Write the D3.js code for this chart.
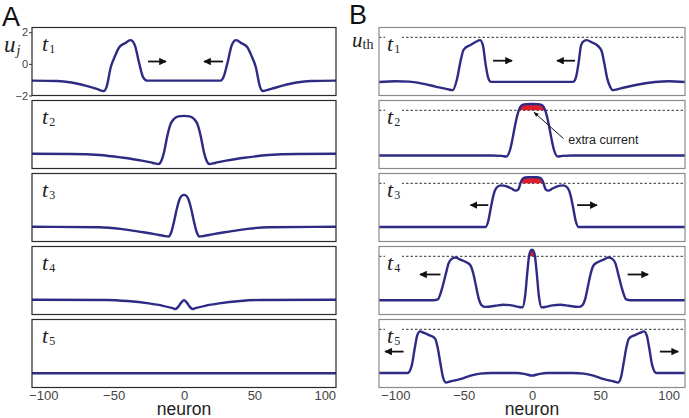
<!DOCTYPE html>
<html><head><meta charset="utf-8">
<script src="https://cdn.jsdelivr.net/npm/d3@7"></script>
<style>body{margin:0;background:#fff} svg{display:block}</style>
</head><body>
<svg id="c" width="689" height="418"></svg>
<script>
// ---------------- data ----------------
const timeLabels = ["1","2","3","4","5"];
const xTicks = [-100,-50,0,50,100];
const yTicks = [-2,0,2];
const uThreshold = 1.68;

// Panel A (no extra current)
const aX1 = [-108,-90,-80,-70,-62,-57,-55,-52,-49,-46,-42,-38,-35,-32,-29,-26,0,26,28,31,34,37,41,45,48,51,54,56,62,70,80,90,108];
const aU1 = [-1.06,-1.08,-1.18,-1.38,-1.58,-1.72,-1.45,-0.2,0.5,1.05,1.3,1.5,1.2,0.1,-0.85,-1.06,-1.06,-1.06,-0.85,0.1,1.2,1.5,1.3,1.05,0.5,-0.2,-1.45,-1.72,-1.58,-1.38,-1.18,-1.08,-1.06];
const aX2 = [-108,-80,-60,-45,-30,-22,-18,-16,-14,-12,-10,-7,-4,0,4,7,10,12,14,16,18,22,30,45,60,80,108];
const aU2 = [-1.07,-1.08,-1.15,-1.3,-1.5,-1.65,-1.72,-1.5,-0.9,0.0,0.7,1.15,1.3,1.33,1.3,1.15,0.7,0.0,-0.9,-1.5,-1.72,-1.65,-1.5,-1.3,-1.15,-1.08,-1.07];
const aX3 = [-108,-60,-45,-30,-20,-14,-11,-9,-7,-5,-3,-1.5,0,1.5,3,5,7,9,11,14,20,30,45,60,108];
const aU3 = [-1.07,-1.1,-1.2,-1.4,-1.55,-1.65,-1.68,-1.4,-0.7,0.1,0.7,0.9,0.95,0.9,0.7,0.1,-0.7,-1.4,-1.68,-1.65,-1.55,-1.4,-1.2,-1.1,-1.07];
const aX4 = [-108,-55,-40,-25,-15,-8,-6,-4,-2,0,2,4,6,8,15,25,40,55,108];
const aU4 = [-1.07,-1.08,-1.15,-1.3,-1.45,-1.6,-1.65,-1.5,-1.25,-1.1,-1.25,-1.5,-1.65,-1.6,-1.45,-1.3,-1.15,-1.08,-1.07];
const aX5 = [-108,108];
const aU5 = [-1.1,-1.1];

// Panel B (with extra current)
const bX1 = [-112,-100,-90,-80,-70,-62,-58,-55,-52,-50,-45,-41,-38,-36,-34,-32,-30,0,30,32,34,36,38,40,44,48,51,53,55,57.5,59,65,75,90,100,112];
const bU1 = [-1.15,-1.1,-1.12,-1.25,-1.45,-1.6,-1.66,-1.0,0.3,0.9,1.2,1.4,1.5,1.2,0.0,-0.9,-1.14,-1.14,-1.14,-0.9,0.0,1.2,1.45,1.5,1.35,1.15,0.8,0.0,-0.9,-1.5,-1.66,-1.55,-1.35,-1.15,-1.1,-1.15];
const bX2 = [-112,-30,-22,-19,-16,-14,-12,-10,-8.5,-7,-4,0,4,7,8.5,10,12,14,16,19,22,30,112];
const bU2 = [-1.18,-1.18,-1.2,-1.25,-0.8,0.0,0.9,1.6,1.9,2.02,2.07,2.08,2.07,2.02,1.9,1.6,0.9,0.0,-0.8,-1.25,-1.2,-1.18,-1.18];
const bX3 = [-112,-40,-34,-32,-30,-28,-26,-23,-19,-15,-12,-10,-8,-6,-3,0,3,6,8,10,12,15,19,23,26,28,30,32,34,40,112];
const bU3 = [-1.08,-1.08,-1.08,-0.7,0.2,1.0,1.4,1.55,1.5,1.35,1.22,1.3,1.8,2.02,2.06,2.07,2.06,2.02,1.8,1.3,1.22,1.35,1.5,1.55,1.4,1.0,0.2,-0.7,-1.08,-1.08,-1.08];
const bX4 = [-112,-72,-69,-66,-63,-61,-59,-56,-52,-48,-45,-43,-41,-39,-37,-34,-27,-21,-15,-10,-7,-5,-3.5,-2.3,-1.2,0,1.2,2.3,3.5,5,7,10,15,21,27,34,37,39,41,43,45,48,52,56,59,61,63,66,69,72,112];
const bU4 = [-1.1,-1.1,-1.05,-0.4,0.6,1.25,1.5,1.6,1.45,1.3,1.1,0.6,-0.2,-1.0,-1.4,-1.52,-1.45,-1.38,-1.42,-1.52,-1.55,-0.8,0.6,1.6,2.0,2.1,2.0,1.6,0.6,-0.8,-1.55,-1.52,-1.42,-1.38,-1.45,-1.52,-1.4,-1.0,-0.2,0.6,1.1,1.3,1.45,1.6,1.5,1.25,0.6,-0.4,-1.05,-1.1,-1.1];
const bX5 = [-112,-91,-88,-86,-84,-82,-79,-75,-71,-69,-67,-65,-63,-60,-52,-45,-38,-30,-11,-5,0,5,11,30,38,45,52,60,63,65,67,69,71,75,79,82,84,86,88,91,112];
const bU5 = [-1.08,-1.08,-0.6,0.4,1.3,1.55,1.45,1.3,1.1,0.5,-0.5,-1.4,-1.68,-1.62,-1.45,-1.25,-1.12,-1.08,-1.08,-1.15,-1.25,-1.15,-1.08,-1.08,-1.12,-1.25,-1.45,-1.62,-1.68,-1.4,-0.5,0.5,1.1,1.3,1.45,1.55,1.3,0.4,-0.6,-1.08,-1.08];

// motion arrows: panel index, from x0 to x1 (neuron units), at height u
const arrowsA = [{p:0,x0:-25.5,x1:-12.8,u:0.15},{p:0,x0:27.7,x1:14.2,u:0.15}];
const arrowsB = [{p:0,x0:-28.5,x1:-14.6,u:0.2},{p:0,x0:31.5,x1:18.3,u:0.2},
                 {p:2,x0:-32,x1:-45,u:0.3},{p:2,x0:33,x1:47.5,u:0.3},
                 {p:3,x0:-67,x1:-82,u:0.53},{p:3,x0:70,x1:85,u:0.53},
                 {p:4,x0:-94,x1:-107.5,u:0.27},{p:4,x0:93.6,x1:107,u:0.27}];

// ---------------- drawing ----------------
const svg = d3.select("#c");
const lineColor = "#2e2b84", redColor = "#dc1f2e";
const sans = "'Liberation Sans', Arial, sans-serif", serif = "'Liberation Serif', 'Times New Roman', serif";
const panelH = 68, panelTop = i => 27.5 + i*73;

const defs = svg.append("defs");
defs.append("marker").attr("id","ah").attr("viewBox","0 0 10 10").attr("refX",9).attr("refY",5)
  .attr("markerWidth",4.2).attr("markerHeight",4.2).attr("orient","auto-start-reverse")
  .append("path").attr("d","M0,0L10,5L0,10z").attr("fill","#111");
defs.append("marker").attr("id","ah2").attr("viewBox","0 0 10 10").attr("refX",9).attr("refY",5)
  .attr("markerWidth",7).attr("markerHeight",5).attr("orient","auto")
  .append("path").attr("d","M0,1L10,5L0,9z").attr("fill","#111");

function drawColumn(cfg){
  const x = d3.scaleLinear().domain(cfg.domain).range([cfg.left, cfg.right]);
  cfg.series.forEach((s, i) => {
    const top = panelTop(i);
    const y = d3.scaleLinear().domain([-2, 2.3]).range([top + panelH, top]);
    const pts = s.x.map((xv, k) => [xv, s.u[k]]);
    const g = svg.append("g");
    if (cfg.threshold) {
      g.append("line").attr("x1", cfg.left).attr("x2", cfg.right)
        .attr("y1", y(uThreshold)).attr("y2", y(uThreshold))
        .attr("stroke","#333").attr("stroke-width",1).attr("stroke-dasharray","2.5,2");
      const cid = "clip" + cfg.id + i;
      defs.append("clipPath").attr("id", cid).append("rect")
        .attr("x", cfg.left).attr("y", top).attr("width", cfg.right - cfg.left).attr("height", y(uThreshold) - top);
      const area = d3.area().x(d => x(d[0])).y0(y(-2)).y1(d => y(d[1])).curve(d3.curveMonotoneX);
      g.append("path").datum(pts).attr("d", area).attr("fill", redColor).attr("clip-path", `url(#${cid})`);
    }
    const line = d3.line().x(d => x(d[0])).y(d => y(d[1])).curve(d3.curveMonotoneX);
    g.append("path").datum(pts).attr("d", line).attr("fill","none")
      .attr("stroke", lineColor).attr("stroke-width", 2.4).attr("stroke-linejoin","round");
    g.append("rect").attr("x", cfg.left).attr("y", top).attr("width", cfg.right - cfg.left).attr("height", panelH)
      .attr("fill","none").attr("stroke", cfg.frame).attr("stroke-width", 1.2);
    const lx = cfg.left + cfg.labelDx, ly = top + 23;
    if (cfg.threshold) {
      g.append("rect").attr("x", lx - 2).attr("y", y(uThreshold) - 3).attr("width", 17).attr("height", 6).attr("fill","#fff");
    }
    const t = g.append("text").attr("x", lx).attr("y", ly).attr("fill","#222");
    t.append("tspan").attr("font-family", serif).attr("font-style","italic").attr("font-size", 22).text("t");
    t.append("tspan").attr("font-family", serif).attr("font-size", 12).attr("dx", 1).attr("dy", 2).text(timeLabels[i]);
    cfg.arrows.filter(a => a.p === i).forEach(a => {
      g.append("line").attr("x1", x(a.x0)).attr("x2", x(a.x1)).attr("y1", y(a.u)).attr("y2", y(a.u))
        .attr("stroke","#111").attr("stroke-width",1.8).attr("marker-end","url(#ah)");
    });
    if (i === 0 && cfg.yAxis) {
      const ax = svg.append("g").attr("transform", `translate(${cfg.left},0)`)
        .call(d3.axisLeft(y).tickValues(yTicks).tickSize(3).tickPadding(1).tickFormat(d3.format("d")));
      ax.select(".domain").remove();
      ax.selectAll("line").attr("stroke","#333");
      ax.selectAll("text").attr("font-family", sans).attr("font-size", 11).attr("fill","#444");
    }
    if (i === cfg.series.length - 1) {
      const ax = svg.append("g").attr("transform", `translate(0,${top + panelH})`)
        .call(d3.axisBottom(x).tickValues(xTicks).tickSize(0).tickPadding(3));
      ax.select(".domain").remove();
      ax.selectAll("text").attr("font-family", sans).attr("font-size", 13).attr("fill","#444");
      svg.append("text").attr("x", x(0)).attr("y", 415).attr("text-anchor","middle")
        .attr("font-family", sans).attr("font-size", 17.5).attr("fill","#222").text("neuron");
    }
    if (cfg.threshold && i === 1) {
      const ax0 = x(1.5), ay0 = y(1.55);
      svg.append("line").attr("x1", x(23)).attr("y1", y(-0.1)).attr("x2", ax0).attr("y2", ay0)
        .attr("stroke","#111").attr("stroke-width",1).attr("marker-end","url(#ah2)");
      svg.append("text").attr("x", x(26.5)).attr("y", y(-0.45)).attr("font-family", sans)
        .attr("font-size", 12.5).attr("fill","#222").text("extra current");
    }
  });
}

drawColumn({id:"A", domain:[-108,108], left:32, right:336, frame:"#2a2a2a", threshold:false, yAxis:true, labelDx:10,
  series:[{x:aX1,u:aU1},{x:aX2,u:aU2},{x:aX3,u:aU3},{x:aX4,u:aU4},{x:aX5,u:aU5}], arrows:arrowsA});
drawColumn({id:"B", domain:[-112,112], left:379, right:685, frame:"#8a8a8a", threshold:true, yAxis:false, labelDx:8,
  series:[{x:bX1,u:bU1},{x:bX2,u:bU2},{x:bX3,u:bU3},{x:bX4,u:bU4},{x:bX5,u:bU5}], arrows:arrowsB});

svg.append("text").attr("x", 2).attr("y", 26).attr("font-family", sans).attr("font-size", 27).attr("fill","#111").text("A");
svg.append("text").attr("x", 349).attr("y", 23.5).attr("font-family", sans).attr("font-size", 27).attr("fill","#111").text("B");
const uj = svg.append("text").attr("x", 4).attr("y", 52).attr("fill","#222");
uj.append("tspan").attr("font-family", serif).attr("font-style","italic").attr("font-size", 23).text("u");
uj.append("tspan").attr("font-family", serif).attr("font-style","italic").attr("font-size", 14).attr("dx", 1).attr("dy", 3).text("j");
const uth = svg.append("text").attr("x", 352).attr("y", 46.5).attr("fill","#222");
uth.append("tspan").attr("font-family", serif).attr("font-style","italic").attr("font-size", 21).text("u");
uth.append("tspan").attr("font-family", serif).attr("font-size", 14).attr("dy", 2).text("th");
</script>
</body></html>
